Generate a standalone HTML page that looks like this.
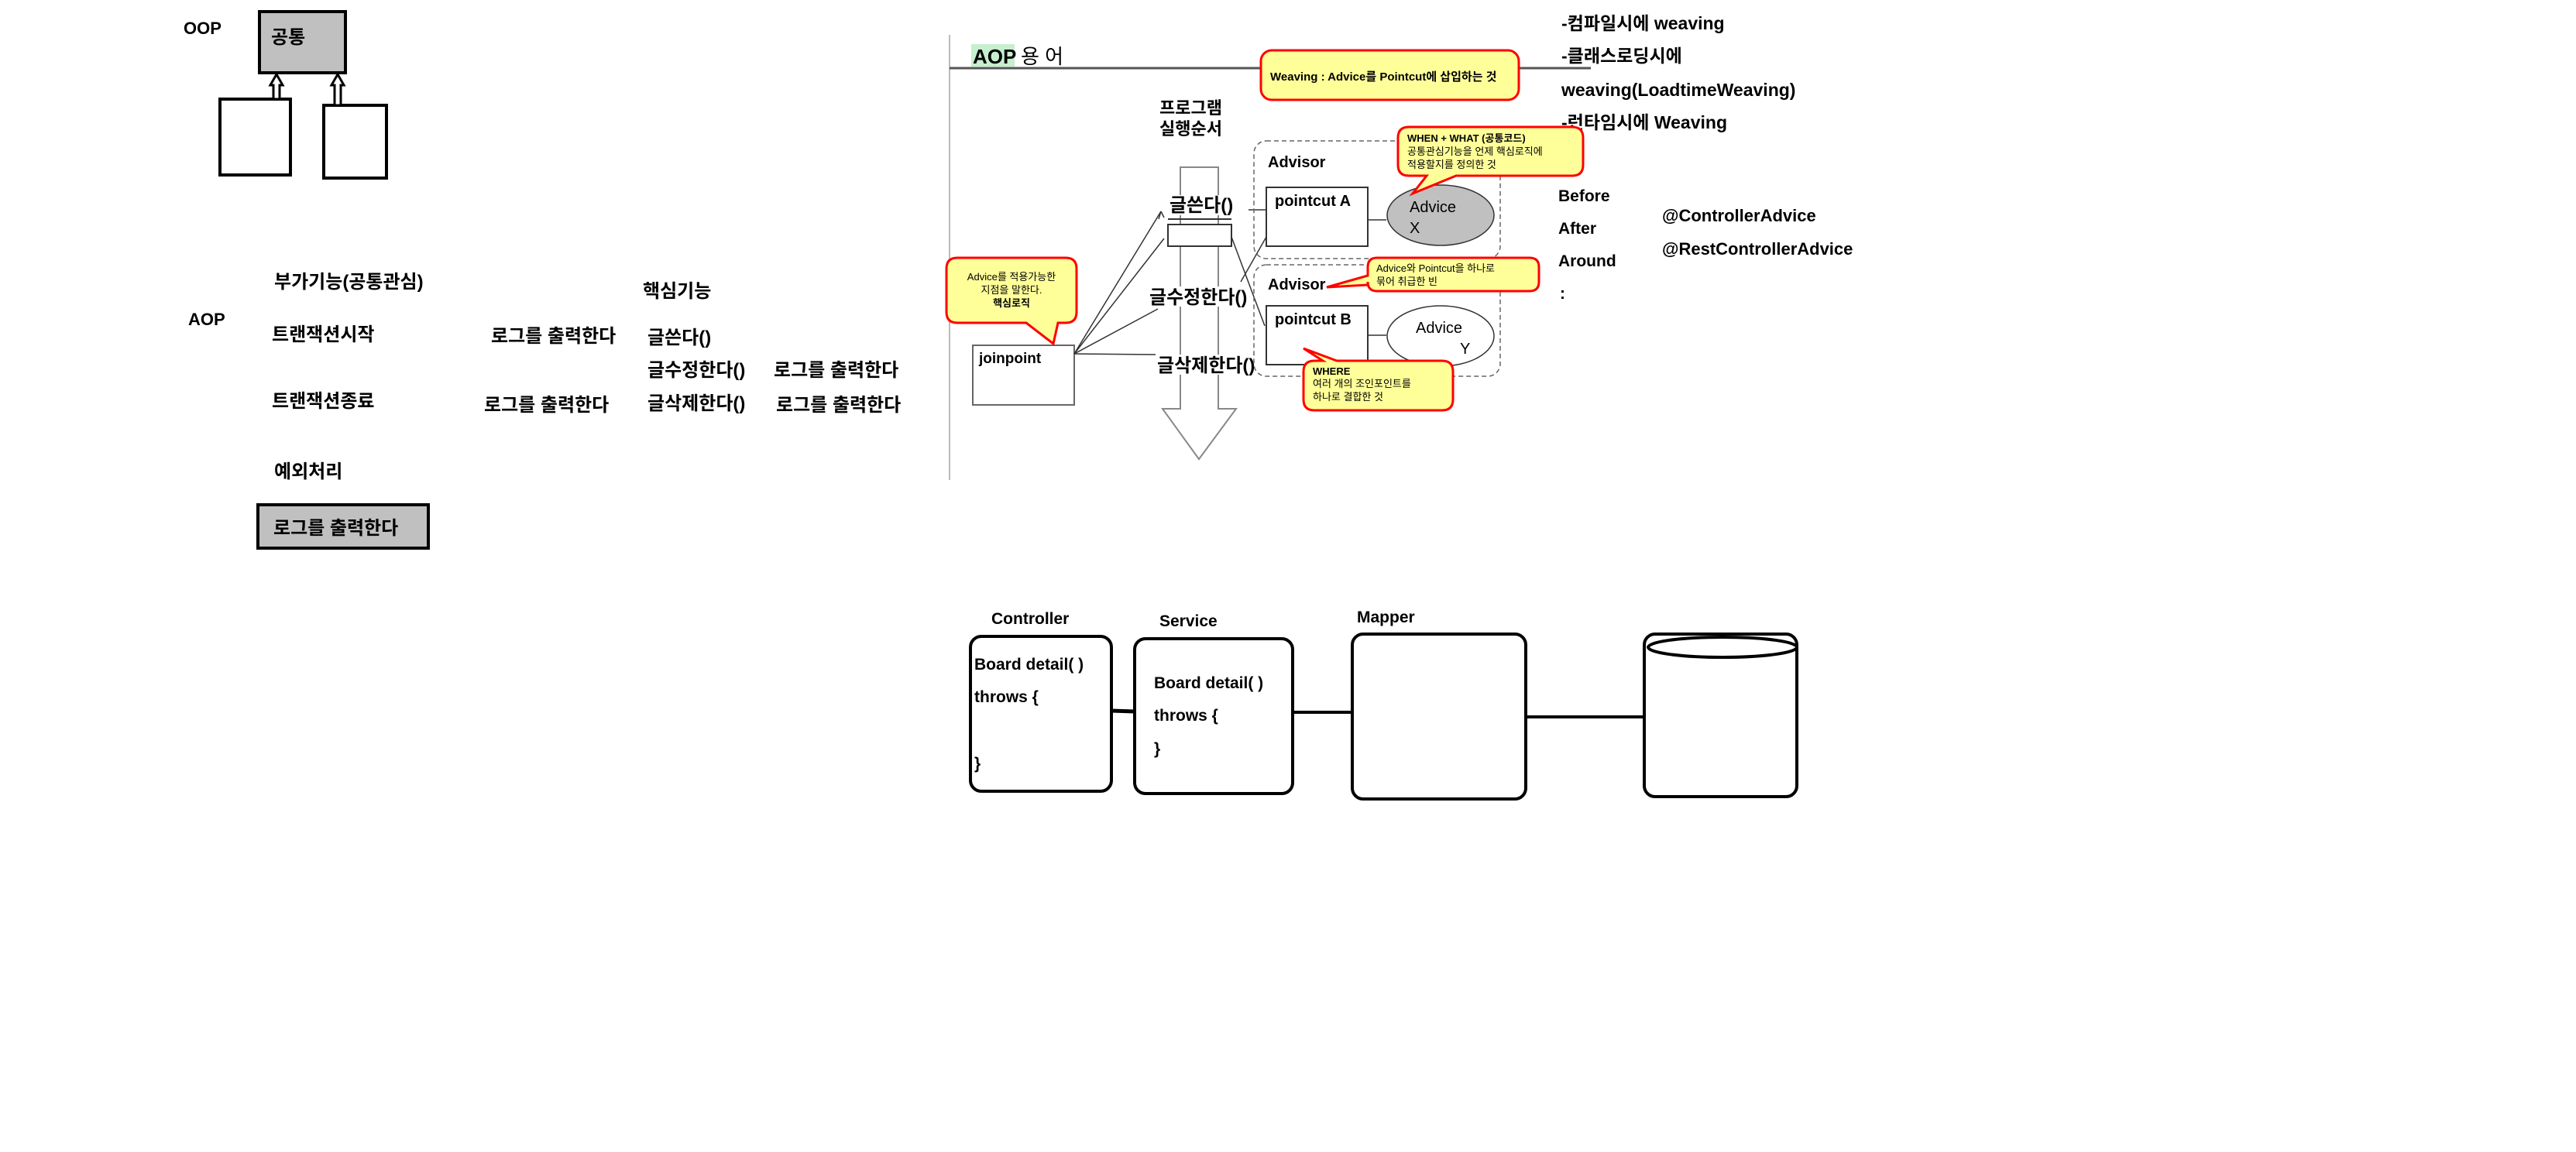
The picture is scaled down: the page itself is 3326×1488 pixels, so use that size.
<!DOCTYPE html>
<html><head><meta charset="utf-8"><style>
html,body{margin:0;padding:0;background:#fff;}
svg{display:block}
text{font-family:"Liberation Sans","Noto Sans CJK KR",sans-serif;font-weight:bold;fill:#000}
.n{font-weight:normal}
</style></head><body>
<svg width="3326" height="1488" viewBox="0 0 3326 1488" xmlns="http://www.w3.org/2000/svg">
<!-- OOP section -->
<text x="237" y="44" font-size="22">OOP</text>
<rect x="335" y="15" width="111" height="79" fill="#c0c0c0" stroke="#000" stroke-width="4"/>
<text x="350" y="56" font-size="24">공통</text>
<rect x="284" y="128" width="91" height="98" fill="#fff" stroke="#000" stroke-width="4"/>
<rect x="418" y="136" width="81" height="94" fill="#fff" stroke="#000" stroke-width="4"/>
<path d="M353 128 V110 H349 L357 96 L365 110 H361 V128 Z" fill="#fff" stroke="#000" stroke-width="3"/>
<path d="M432 136 V110 H428 L436 96 L444 110 H440 V136 Z" fill="#fff" stroke="#000" stroke-width="3"/>

<!-- AOP left -->
<text x="354" y="372" font-size="24">부가기능(공통관심)</text>
<text x="243" y="420" font-size="22">AOP</text>
<text x="351" y="440" font-size="24">트랜잭션시작</text>
<text x="830" y="384" font-size="24">핵심기능</text>
<text x="634" y="442" font-size="24">로그를 출력한다</text>
<text x="836" y="444" font-size="24">글쓴다()</text>
<text x="836" y="486" font-size="24">글수정한다()</text>
<text x="999" y="486" font-size="24">로그를 출력한다</text>
<text x="351" y="526" font-size="24">트랜잭션종료</text>
<text x="625" y="531" font-size="24">로그를 출력한다</text>
<text x="836" y="529" font-size="24">글삭제한다()</text>
<text x="1002" y="531" font-size="24">로그를 출력한다</text>
<text x="354" y="617" font-size="24">예외처리</text>
<rect x="333" y="652" width="220" height="56" fill="#c0c0c0" stroke="#000" stroke-width="4"/>
<text x="353" y="690" font-size="24">로그를 출력한다</text>

<line x1="1226" y1="45" x2="1226" y2="620" stroke="#bbb" stroke-width="2"/>

<!-- AOP 용어 -->
<line x1="1226" y1="88" x2="2054" y2="88" stroke="#555" stroke-width="3"/>
<rect x="1254" y="57" width="56" height="29" fill="#c6efce"/>
<text x="1256" y="82" font-size="26">AOP</text>
<text x="1318" y="82" font-size="26" class="n">용 어</text>

<rect x="1628" y="65" width="333" height="64" rx="14" fill="#ffff99" stroke="#f00" stroke-width="3"/>
<text x="1640" y="104" font-size="15">Weaving :   Advice를 Pointcut에  삽입하는 것</text>

<text x="2016" y="38" font-size="23">-컴파일시에 weaving</text>
<text x="2016" y="80" font-size="23">-클래스로딩시에</text>
<text x="2016" y="124" font-size="23">weaving(LoadtimeWeaving)</text>
<text x="2016" y="166" font-size="23">-런타임시에 Weaving</text>

<text x="1497" y="147" font-size="22">프로그램</text>
<text x="1497" y="174" font-size="22">실행순서</text>

<!-- big arrow -->
<path d="M1524 216 H1573 V528 H1596 L1548 593 L1501 528 H1524 Z" fill="#fff" stroke="#888" stroke-width="2"/>
<rect x="1508" y="290" width="82" height="28" fill="#fff" stroke="#333" stroke-width="2"/>
<line x1="1508" y1="283" x2="1590" y2="283" stroke="#333" stroke-width="2"/>
<rect x="1508" y="252" width="92" height="26" fill="#fff"/>
<text x="1510" y="273" font-size="24">글쓴다()</text>
<rect x="1484" y="370" width="136" height="26" fill="#fff"/>
<text x="1484" y="392" font-size="24">글수정한다()</text>
<rect x="1494" y="458" width="138" height="26" fill="#fff"/>
<text x="1494" y="480" font-size="24">글삭제한다()</text>

<!-- joinpoint -->
<rect x="1256" y="446" width="131" height="77" fill="#fff" stroke="#666" stroke-width="2"/>
<text x="1264" y="469" font-size="19">joinpoint</text>
<g stroke="#333" stroke-width="1.5" fill="none">
<line x1="1387" y1="457" x2="1499" y2="273"/>
<line x1="1387" y1="457" x2="1503" y2="308"/>
<line x1="1387" y1="457" x2="1495" y2="399"/>
<line x1="1387" y1="457" x2="1492" y2="458"/>
<line x1="1590" y1="306" x2="1633" y2="421"/>
<line x1="1602" y1="364" x2="1635" y2="306"/>
<line x1="1612" y1="271" x2="1635" y2="271"/>
<line x1="1646" y1="471" x2="1683" y2="471"/>
<line x1="1766" y1="284" x2="1790" y2="284"/>
<line x1="1766" y1="433" x2="1790" y2="433"/>
</g>
<path d="M1499 273 l-3 10 M1499 273 l4 8" stroke="#333" stroke-width="1.5"/>

<!-- callout joinpoint -->
<path d="M1236 333 H1376 Q1390 333 1390 347 V403 Q1390 417 1376 417 H1366 L1360 444 L1325 417 H1236 Q1222 417 1222 403 V347 Q1222 333 1236 333 Z" fill="#ffff99" stroke="#f00" stroke-width="3"/>
<text x="1306" y="362" font-size="13" class="n" text-anchor="middle">Advice를 적용가능한</text>
<text x="1306" y="379" font-size="13" class="n" text-anchor="middle">지점을 말한다.</text>
<text x="1306" y="396" font-size="13" text-anchor="middle">핵심로직</text>

<!-- Advisor boxes -->
<rect x="1619" y="182" width="318" height="152" rx="16" fill="none" stroke="#666" stroke-width="1.5" stroke-dasharray="6,4"/>
<rect x="1619" y="342" width="318" height="144" rx="16" fill="none" stroke="#666" stroke-width="1.5" stroke-dasharray="6,4"/>
<text x="1637" y="216" font-size="20">Advisor</text>
<text x="1637" y="374" font-size="20">Advisor</text>
<rect x="1635" y="242" width="131" height="76" fill="#fff" stroke="#333" stroke-width="2"/>
<text x="1646" y="266" font-size="20">pointcut A</text>
<rect x="1635" y="395" width="131" height="76" fill="#fff" stroke="#333" stroke-width="2"/>
<text x="1646" y="419" font-size="20">pointcut B</text>
<ellipse cx="1860" cy="278" rx="69" ry="39" fill="#c0c0c0" stroke="#333" stroke-width="1.5"/>
<text x="1820" y="274" font-size="20" class="n">Advice</text>
<text x="1820" y="301" font-size="20" class="n">X</text>
<ellipse cx="1860" cy="434" rx="69" ry="39" fill="#fff" stroke="#333" stroke-width="1.5"/>
<text x="1828" y="430" font-size="20" class="n">Advice</text>
<text x="1885" y="457" font-size="20" class="n">Y</text>

<!-- WHEN callout -->
<path d="M1819 164 H2030 Q2044 164 2044 178 V213 Q2044 227 2030 227 H1880 L1824 250 L1842 227 H1819 Q1805 227 1805 213 V178 Q1805 164 1819 164 Z" fill="#ffff99" stroke="#f00" stroke-width="3"/>
<text x="1817" y="183" font-size="13">WHEN  + WHAT (공통코드)</text>
<text x="1817" y="200" font-size="13" class="n">공통관심기능을 언제 핵심로직에</text>
<text x="1817" y="217" font-size="13" class="n">적용할지를 정의한 것</text>

<!-- Advisor callout -->
<path d="M1778 333 H1975 Q1987 333 1987 345 V364 Q1987 376 1975 376 H1778 Q1766 376 1766 364 V368 L1713 371 L1766 356 V345 Q1766 333 1778 333 Z" fill="#ffff99" stroke="#f00" stroke-width="3"/>
<text x="1777" y="351" font-size="13" class="n">Advice와 Pointcut을 하나로</text>
<text x="1777" y="368" font-size="13" class="n">묶어 취급한 빈</text>

<!-- WHERE callout -->
<path d="M1697 466 H1708 L1683 450 L1726 466 H1862 Q1876 466 1876 480 V516 Q1876 530 1862 530 H1697 Q1683 530 1683 516 V480 Q1683 466 1697 466 Z" fill="#ffff99" stroke="#f00" stroke-width="3"/>
<text x="1695" y="484" font-size="13">WHERE</text>
<text x="1695" y="500" font-size="13" class="n">여러 개의 조인포인트를</text>
<text x="1695" y="517" font-size="13" class="n">하나로 결합한 것</text>

<text x="2012" y="260" font-size="21">Before</text>
<text x="2012" y="302" font-size="21">After</text>
<text x="2012" y="344" font-size="21">Around</text>
<text x="2014" y="386" font-size="21">:</text>
<text x="2146" y="286" font-size="22">@ControllerAdvice</text>
<text x="2146" y="329" font-size="22">@RestControllerAdvice</text>

<!-- bottom -->
<text x="1280" y="806" font-size="21">Controller</text>
<text x="1497" y="809" font-size="21">Service</text>
<text x="1752" y="804" font-size="21">Mapper</text>
<rect x="1253" y="822" width="182" height="200" rx="14" fill="#fff" stroke="#000" stroke-width="4"/>
<rect x="1465" y="825" width="204" height="200" rx="14" fill="#fff" stroke="#000" stroke-width="4"/>
<rect x="1746" y="819" width="224" height="213" rx="14" fill="#fff" stroke="#000" stroke-width="4"/>
<rect x="2123" y="819" width="197" height="210" rx="14" fill="#fff" stroke="#000" stroke-width="4"/>
<ellipse cx="2224" cy="836" rx="96" ry="13" fill="none" stroke="#000" stroke-width="4"/>
<line x1="1435" y1="918" x2="1465" y2="919" stroke="#000" stroke-width="5"/>
<line x1="1669" y1="920" x2="1746" y2="920" stroke="#000" stroke-width="4"/>
<line x1="1970" y1="926" x2="2123" y2="926" stroke="#000" stroke-width="4"/>
<text x="1258" y="865" font-size="21">Board detail( )</text>
<text x="1258" y="907" font-size="21">throws {</text>
<text x="1258" y="993" font-size="21">}</text>
<text x="1490" y="889" font-size="21">Board detail( )</text>
<text x="1490" y="931" font-size="21">throws {</text>
<text x="1490" y="974" font-size="21">}</text>
</svg>
</body></html>
